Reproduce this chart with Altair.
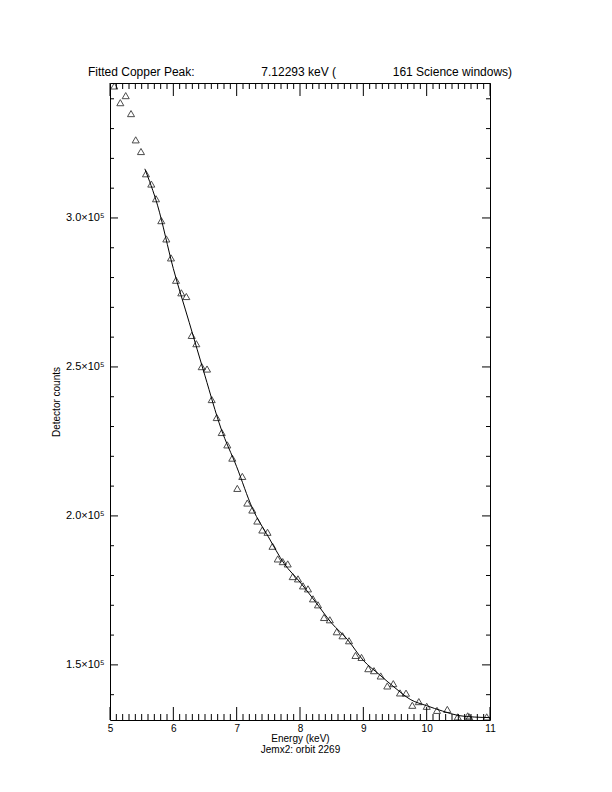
import altair as alt
import pandas as pd

# Measured spectrum (triangles)
energy = [5.068, 5.163, 5.248, 5.332, 5.406, 5.489, 5.568, 5.652, 5.726, 5.810,
          5.889, 5.963, 6.042, 6.126, 6.205, 6.290, 6.363, 6.448, 6.532, 6.606,
          6.685, 6.764, 6.852, 6.931, 7.010, 7.089, 7.168, 7.247, 7.326, 7.405,
          7.487, 7.566, 7.649, 7.727, 7.806, 7.885, 7.968, 8.047, 8.126, 8.205,
          8.284, 8.379, 8.471, 8.580, 8.671, 8.774, 8.876, 8.971, 9.078, 9.168,
          9.274, 9.378, 9.473, 9.579, 9.674, 9.773, 9.876, 10.001, 10.163, 10.326,
          10.490, 10.648, 10.673, 10.948]
counts = [344300, 338700, 341060, 335030, 326220, 322300, 314840, 311390, 306460, 299100,
          292970, 286600, 279100, 274880, 273640, 260580, 257800, 250100, 249300, 239050,
          233020, 228000, 223840, 219390, 209240, 213260, 204320, 201980, 198290, 195280,
          194510, 189820, 185560, 184660, 183890, 179640, 178870, 176520, 175520, 172170,
          170160, 165910, 165140, 161120, 159780, 158100, 153180, 152510, 148730, 148060,
          146280, 142930, 143700, 140590, 140520, 136440, 137670, 136100, 134730, 135060,
          132550, 132890, 132550, 132550]

# Fitted curve (solid line)
fit_energy = [5.55, 5.75, 6.0, 6.25, 6.5, 6.75, 7.0, 7.25, 7.5, 7.75, 8.0, 8.25,
              8.5, 8.75, 9.0, 9.25, 9.5, 9.75, 10.0, 10.25, 10.5, 10.75, 11.0]
fit_counts = [316500, 304300, 283000, 265000, 247000, 229500, 216500, 202500, 193000,
              184000, 177800, 171000, 164000, 158500, 151500, 146800, 142300, 138300,
              136300, 134500, 133000, 132500, 132300]

x_major = [5, 6, 7, 8, 9, 10, 11]
x_minor = [round(5 + 0.1 * i, 1) for i in range(61) if i % 10 != 0]
y_major = [150000, 200000, 250000, 300000]
y_minor = [v for v in range(140000, 345001, 10000) if v % 50000 != 0]

title_text = ("Fitted Copper Peak:" + "\u00a0" * 20 + "7.12293 keV (" + "\u00a0" * 17
              + "161 Science windows)")

W, H = 380, 637
FONT = "Liberation Sans"

xs = alt.Scale(domain=[5, 11], nice=False, zero=False)
ys = alt.Scale(domain=[131500, 345300], nice=False, zero=False)

xaxis = alt.Axis(
    values=x_major, ticks=False, domain=False, grid=False, format="d",
    labelFont=FONT, labelFontSize=10, labelColor="black", labelPadding=3,
    labelFlush=False, labelOverlap=False, labelBound=False,
    title=["Energy (keV)", "Jemx2: orbit 2269"], titleFont=FONT, titleFontSize=10,
    titleFontWeight="normal", titleColor="black", titlePadding=0, titleLineHeight=11)
yaxis = alt.Axis(
    values=y_major, ticks=False, domain=False, grid=False,
    labelExpr="format(datum.value / 100000, '.1f') + '×10⁵'",
    labelFont=FONT, labelFontSize=11, labelColor="black", labelPadding=6,
    labelFlush=False, labelOverlap=False,
    title="Detector counts", titleFont=FONT, titleFontSize=10,
    titleFontWeight="normal", titleColor="black", titlePadding=4)

pts = alt.Chart(pd.DataFrame({"e": energy, "c": counts})).mark_point(
    shape="triangle-up", filled=False, color="black", size=50, strokeWidth=1, clip=True
).encode(
    x=alt.X("e:Q", scale=xs, axis=xaxis),
    y=alt.Y("c:Q", scale=ys, axis=yaxis),
)

fit = alt.Chart(pd.DataFrame({"e": fit_energy, "c": fit_counts})).mark_line(
    color="black", strokeWidth=1, interpolate="monotone", clip=True
).encode(
    x=alt.X("e:Q", scale=xs, axis=xaxis),
    y=alt.Y("c:Q", scale=ys, axis=yaxis),
)


def xticks(vals, y0, y1):
    return alt.Chart(pd.DataFrame({"e": vals})).mark_rule(color="black", strokeWidth=1).encode(
        x=alt.X("e:Q", scale=xs, axis=xaxis), y=alt.value(y0), y2=alt.value(y1))


def yticks(vals, x0, x1):
    return alt.Chart(pd.DataFrame({"c": vals})).mark_rule(color="black", strokeWidth=1, clip=True).encode(
        y=alt.Y("c:Q", scale=ys, axis=yaxis), x=alt.value(x0), x2=alt.value(x1))


layers = [
    pts, fit,
    xticks(x_major, H, H - 13), xticks(x_minor, H, H - 6),
    xticks(x_major, 0, 13), xticks(x_minor, 0, 6),
    yticks(y_major, 0, 8), yticks(y_minor, 0, 4),
    yticks(y_major, W, W - 8), yticks(y_minor, W, W - 4),
]

chart = alt.layer(*layers).properties(
    width=W, height=H,
    padding={"left": 102, "top": 75, "right": 60, "bottom": 50},
    autosize=alt.AutoSizeParams(type="none"),
    title=alt.Title(title_text, font=FONT, fontSize=12, fontWeight="normal",
                    color="black", anchor="middle", offset=4),
    background="white",
).configure_view(stroke="black", strokeWidth=1)

chart.save("out.html", embed_options={"renderer": "svg", "actions": False})
